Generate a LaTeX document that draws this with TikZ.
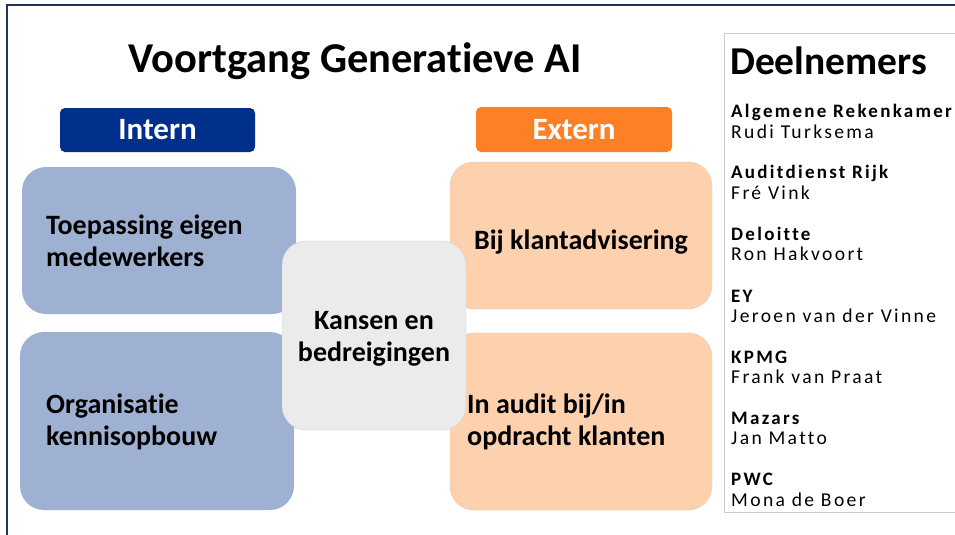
\documentclass[tikz,border=0pt]{standalone}
\usepackage{fontspec}
\setmainfont[Ligatures=NoCommon]{Carlito}
\newfontfamily\spaced[LetterSpace=12,Ligatures=NoCommon]{Carlito}
\begin{document}
\begin{tikzpicture}[x=1pt,y=-1pt,
  hdr/.style={rounded corners=5pt, text=white, font=\bfseries\fontsize{31}{34}\selectfont},
  blu/.style={fill=blueL, rounded corners=24pt},
  org/.style={fill=orangeL, draw=orangeL!85!gray, rounded corners=24pt},
  mid/.style={fill=grayL, draw=black!18, rounded corners=24pt},
  btxt/.style={font=\bfseries\fontsize{28}{32}\selectfont, align=left, anchor=west, inner sep=0pt},
  ctxt/.style={font=\bfseries\fontsize{28}{32}\selectfont, align=center, inner sep=0pt},
  comp/.style={font=\spaced\bfseries\fontsize{19}{21}\selectfont, anchor=west, inner sep=0pt},
  pers/.style={font=\spaced\fontsize{19.6}{21}\selectfont, anchor=west, inner sep=0pt}]
\definecolor{navy}{RGB}{0,48,140}
\definecolor{orangeD}{RGB}{253,128,38}
\definecolor{blueL}{RGB}{159,177,210}
\definecolor{orangeL}{RGB}{253,208,174}
\definecolor{grayL}{RGB}{235,235,235}
\definecolor{frame}{RGB}{31,50,100}
\useasboundingbox (0,0) rectangle (955,535);
\fill[white] (0,0) rectangle (955,535);
% frame
\draw[frame, line width=2pt] (7,535) -- (7,5) -- (955,5);
% title
\node[font=\bfseries\fontsize{42.5}{46}\selectfont] (title) at (355,61) {Voortgang Generatieve AI};
% headers
\node[hdr, fill=navy, minimum width=195pt, minimum height=44pt] (intern) at (157.5,130) {Intern};
\node[hdr, fill=orangeD, minimum width=196pt, minimum height=45pt] (extern) at (574,129.5) {Extern};
% blue boxes
\fill[blu] (22,167) rectangle (296,314);
\fill[blu] (20,332) rectangle (294,510);
% orange boxes
\draw[org] (450,162) rectangle (712,309);
\draw[org] (450,333) rectangle (712,510);
% middle
\draw[mid] (282,241) rectangle (466,430);
% texts
\node[btxt] (t1) at (46,241) {Toepassing eigen\\medewerkers};
\node[btxt] (t2) at (46,422) {Organisatie\\kennisopbouw};
\node[ctxt] (t3) at (374,339) {Kansen en\\bedreigingen};
\node[ctxt] (t4) at (581,242) {Bij klantadvisering};
\node[btxt] (t5) at (467,422) {In audit bij/in\\opdracht klanten};
% right panel
\draw[black!20, fill=white] (724,33) rectangle (960,512);
\node[font=\bfseries\fontsize{39.5}{42}\selectfont, anchor=west, inner sep=0pt] (deel) at (730,61) {Deelnemers};
\node[comp] (c1) at (731,112) {Algemene Rekenkamer};
\node[pers] (p1) at (731,132) {Rudi Turksema};
\node[comp] (c2) at (731,173) {Auditdienst Rijk};
\node[pers] (p2) at (731,193) {Fré Vink};
\node[comp] (c3) at (731,234) {Deloitte};
\node[pers] (p3) at (731,254) {Ron Hakvoort};
\node[comp] (c4) at (731,296) {EY};
\node[pers] (p4) at (731,316) {Jeroen van der Vinne};
\node[comp] (c5) at (731,357) {KPMG};
\node[pers] (p5) at (731,377) {Frank van Praat};
\node[comp] (c6) at (731,418) {Mazars};
\node[pers] (p6) at (731,438) {Jan Matto};
\node[comp] (c7) at (731,479) {PWC};
\node[pers] (p7) at (731,500) {Mona de Boer};
\end{tikzpicture}
\end{document}
